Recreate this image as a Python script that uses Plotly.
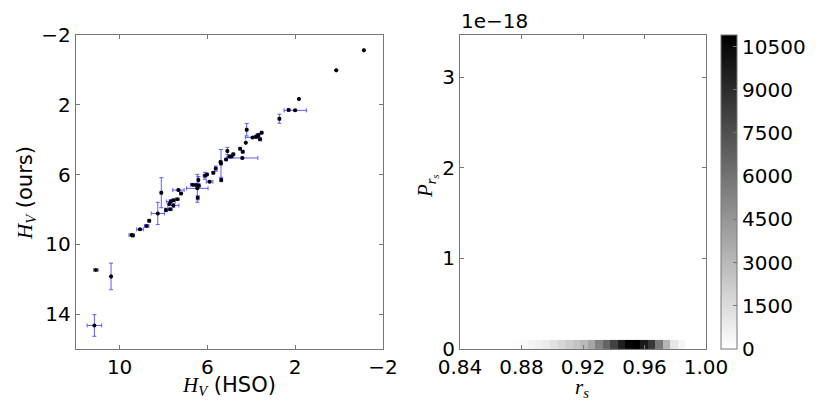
"""
plot.py -- HSO vs our absolute magnitudes, and the r_s posterior histogram.
"""

import plotly.graph_objects as go

# ------------------------------------------------------------------
# Data
# ------------------------------------------------------------------

hv_hso = [-1.13, 0.13, 1.83, 2.30, 2.00, 2.72, 4.21, 4.25, 3.53, 3.68,
          3.79, 3.60, 3.94, 3.72, 4.51, 4.39, 5.09, 4.82, 5.00, 4.91,
          4.41, 5.15, 5.38, 5.40, 5.37, 5.62, 5.73, 6.02, 6.11, 5.90,
          6.41, 6.39, 6.52, 6.67, 6.46, 6.44, 7.32, 7.20, 8.10, 7.37,
          7.55, 7.67, 7.73, 7.55, 7.89, 7.70, 8.26, 8.65, 8.77, 9.07,
          9.45, 9.40, 11.08, 10.39, 11.15]
hv_ours = [-1.12, 0.02, 1.67, 2.30, 2.32, 2.80, 3.43, 4.17, 3.60, 3.73,
           3.83, 3.98, 3.87, 3.80, 4.52, 4.69, 4.65, 4.84, 4.97, 4.97,
           5.05, 5.13, 5.36, 5.28, 6.31, 5.66, 5.90, 5.99, 6.07, 6.41,
           6.31, 6.64, 6.60, 6.58, 6.79, 7.33, 6.89, 7.08, 7.04, 7.42,
           7.47, 7.54, 7.69, 7.77, 8.03, 7.99, 8.23, 8.65, 8.95, 9.14,
           9.47, 9.50, 11.47, 11.84, 14.65]
hv_hso_err = [0.0, 0.0, 0.0, 0.05, 0.51, 0.05, 0.05, 0.0, 0.05, 0.05,
              0.05, 0.05, 0.33, 0.05, 0.05, 0.05, 0.05, 0.05, 0.05, 0.08,
              0.71, 0.05, 0.05, 0.05, 0.05, 0.05, 0.05, 0.05, 0.08, 0.15,
              0.05, 0.05, 0.10, 0.10, 0.49, 0.05, 0.26, 0.05, 0.05, 0.08,
              0.05, 0.20, 0.05, 0.25, 0.05, 0.10, 0.30, 0.05, 0.10, 0.15,
              0.12, 0.05, 0.10, 0.03, 0.33]
hv_ours_err = [0.0, 0.0, 0.0, 0.0, 0.05, 0.26, 0.36, 0.0, 0.05, 0.08,
               0.05, 0.08, 0.05, 0.12, 0.05, 0.05, 0.21, 0.05, 0.05, 0.05,
               0.05, 0.05, 0.80, 0.05, 0.10, 0.15, 0.05, 0.05, 0.20, 0.05,
               0.20, 0.05, 0.05, 0.05, 0.80, 0.12, 0.05, 0.05, 0.86, 0.05,
               0.05, 0.10, 0.05, 0.10, 0.10, 0.05, 0.64, 0.05, 0.05, 0.05,
               0.05, 0.05, 0.03, 0.76, 0.62]

# r_s histogram: bin edges and counts (single populated row near P=0)
rs_edges = [0.8745, 0.87936, 0.88422, 0.88908, 0.89394, 0.8988, 0.90366,
            0.90852, 0.91338, 0.91824, 0.9231, 0.92796, 0.93282, 0.93768,
            0.94254, 0.9474, 0.95226, 0.95712, 0.96198, 0.96684, 0.9717,
            0.97656, 0.98142, 0.98628]
p_edges = [0.0, 1.0e-19]
rs_counts = [130, 300, 470, 640, 900, 1280, 1710, 2140, 2560, 2990, 3850,
             5340, 6630, 8120, 9620, 10690, 10900, 9830, 8550, 5770, 3200,
             1070, 430]

cbar_ticks = [0, 1500, 3000, 4500, 6000, 7500, 9000, 10500]

# ------------------------------------------------------------------
# Figure
# ------------------------------------------------------------------

W, H = 830, 419
MT, MB = 35, 70
PH = H - MT - MB
FONT = "DejaVu Sans"
MATH = "Liberation Serif"
FRAME = "#777777"


def px(x):
    return x / W


def py(y):
    return (H - MB - y) / PH


def math(s):
    return f"<span style='font-family:{MATH}'><i>{s}</i></span>"


fig = go.Figure()

fig.add_trace(
    go.Scatter(
        x=hv_hso, y=hv_ours,
        mode="markers",
        marker=dict(color="black", size=4),
        error_x=dict(type="data", array=hv_hso_err, color="#5c5cff",
                     thickness=1, width=2),
        error_y=dict(type="data", array=hv_ours_err, color="#5c5cff",
                     thickness=1, width=2),
        xaxis="x", yaxis="y",
        showlegend=False,
    )
)

fig.add_trace(
    go.Heatmap(
        x=rs_edges, y=p_edges, z=[rs_counts],
        colorscale=[[0, "white"], [1, "black"]],
        zmin=0, zmax=10900,
        xaxis="x2", yaxis="y2",
        colorbar=dict(
            x=px(721), xanchor="left", xref="paper",
            y=0.5, yanchor="middle",
            len=1.0, lenmode="fraction",
            thickness=16, thicknessmode="pixels",
            outlinecolor=FRAME, outlinewidth=1,
            tickvals=cbar_ticks,
            ticktext=[str(t) for t in cbar_ticks],
            ticks="inside", ticklen=4, tickcolor=FRAME,
            tickfont=dict(size=20, color="black", family=FONT),
            xpad=0, ypad=0,
        ),
    )
)

axis_common = dict(
    showgrid=False, zeroline=False, automargin=False,
    showline=True, linecolor=FRAME, linewidth=1, mirror="ticks",
    ticks="inside", ticklen=4, tickcolor=FRAME,
    tickfont=dict(size=20, color="black", family=FONT),
)

fig.update_layout(
    template="none",
    width=W, height=H,
    margin=dict(l=0, r=0, t=MT, b=MB, pad=0),
    paper_bgcolor="white", plot_bgcolor="white",
    font=dict(family=FONT, color="black", size=20),
    xaxis=dict(domain=[px(75.7), px(383)], range=[12, -2],
               tickvals=[10, 6, 2, -2], **axis_common),
    yaxis=dict(domain=[0, 1], range=[16, -2],
               tickvals=[-2, 2, 6, 10, 14], **axis_common),
    xaxis2=dict(domain=[px(460), px(706)], range=[0.84, 1.0],
                tickvals=[0.84, 0.88, 0.92, 0.96, 1.0],
                ticktext=["0.84", "0.88", "0.92", "0.96", "1.00"],
                anchor="y2", **axis_common),
    yaxis2=dict(domain=[0, 1], range=[0, 3.466e-18],
                tickvals=[0, 1e-18, 2e-18, 3e-18],
                ticktext=["0", "1", "2", "3"],
                anchor="x2", **axis_common),
)

labels = [
    (math("H") + "<sub>" + math("V") + "</sub> (HSO)", 229, 386, 0),
    (math("H") + "<sub>" + math("V") + "</sub> (ours)", 26, 193, -90),
    (math("r") + "<sub>" + math("s") + "</sub>", 582, 388, 0),
    (math("P") + "<sub>" + math("r") + "<sub>" + math("s") + "</sub></sub>",
     427, 186, -90),
]
for text, x, y, angle in labels:
    fig.add_annotation(
        text=text, xref="paper", yref="paper",
        x=px(x), y=py(y), xanchor="center", yanchor="middle",
        textangle=angle, showarrow=False,
        font=dict(size=21, color="black", family=FONT),
    )

fig.add_annotation(
    text="1e\u221218", xref="paper", yref="paper",
    x=px(459), y=py(35), xanchor="left", yanchor="bottom",
    showarrow=False, font=dict(size=20, color="black", family=FONT),
)

# the page's default body margin would shift the whole figure by 8px
fig.write_html("out.html", config={"displayModeBar": False},
               post_script="document.body.style.margin='0';")
